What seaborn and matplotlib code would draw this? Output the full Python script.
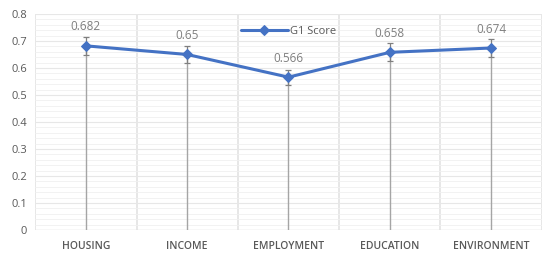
import numpy as np
import pandas as pd
import matplotlib
matplotlib.use('Agg')
import matplotlib.pyplot as plt
import seaborn as sns
from matplotlib.ticker import MultipleLocator, FixedLocator

# Dados do gráfico
categorias = ['HOUSING', 'INCOME', 'EMPLOYMENT', 'EDUCATION', 'ENVIRONMENT']
g1_score = [0.682, 0.65, 0.566, 0.658, 0.674]
erro = [0.034, 0.033, 0.028, 0.033, 0.034]

sns.set_style('white')
plt.rcParams['font.family'] = ['Open Sans', 'DejaVu Sans']

azul = '#4472C4'
cinza_texto = '#595959'

df = pd.DataFrame({'Categoria': categorias, 'G1 Score': g1_score, 'Erro': erro})
x = np.arange(len(categorias))

fig = plt.figure(figsize=(5.5, 2.59), dpi=100)
ax = fig.add_axes([0.064, 0.112, 0.921, 0.834])

# linhas verticais até o zero
ax.vlines(x, 0, df['G1 Score'], color='#A5A5A5', linewidth=1, zorder=2)

# barras de erro
ax.errorbar(x, df['G1 Score'], yerr=df['Erro'], fmt='none', ecolor='#7F7F7F',
            elinewidth=0.9, capsize=2.5, capthick=0.9, zorder=3)

sns.lineplot(x=x, y=df['G1 Score'], ax=ax, color=azul, linewidth=2.2,
             marker='D', markersize=5, markeredgecolor=azul, label='G1 Score', zorder=4)

for xi, v in zip(x, df['G1 Score']):
    ax.annotate(f'{v:g}', (xi, v), xytext=(0, 9), textcoords='offset points',
                ha='center', va='bottom', fontsize=8.5, color='#7F7F7F')

ax.set_xlim(-0.5, len(categorias) - 0.5)
ax.set_ylim(0, 0.8)
ax.yaxis.set_major_locator(MultipleLocator(0.1))
ax.yaxis.set_minor_locator(MultipleLocator(0.02))
ax.set_xticks(x)
ax.set_xticklabels(categorias, fontsize=7.5, color=cinza_texto, fontweight='semibold')
ax.xaxis.set_minor_locator(FixedLocator(np.arange(-0.5, len(categorias), 1.0)))
ax.set_yticks(np.arange(0, 0.81, 0.1))
ax.set_yticklabels([f'{t:g}' for t in np.arange(0, 0.81, 0.1).round(1)], fontsize=8, color=cinza_texto)

ax.grid(which='major', axis='y', color='#E7E7E7', linewidth=0.8)
ax.grid(which='minor', axis='y', color='#F0F0F0', linewidth=0.6)
ax.grid(which='minor', axis='x', color='#E3E3E3', linewidth=1.2)
ax.set_axisbelow(True)
ax.tick_params(axis='both', which='both', length=0, pad=8)
ax.tick_params(axis='y', pad=6)
for s in ax.spines.values():
    s.set_visible(False)
ax.axhline(0, color='#E0E0E0', linewidth=1, zorder=1)
ax.set_xlabel('')
ax.set_ylabel('')

leg = ax.legend(loc='upper center', bbox_to_anchor=(0.5, 0.99), frameon=False,
                fontsize=8, handlelength=4.2, handletextpad=0.2)
for t in leg.get_texts():
    t.set_color(cinza_texto)

plt.savefig('out.png', dpi=100)
